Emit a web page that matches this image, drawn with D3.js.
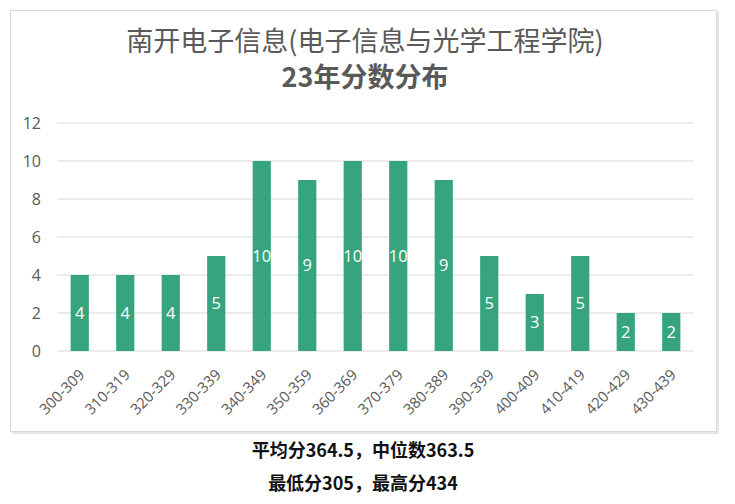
<!DOCTYPE html>
<html>
<head>
<meta charset="utf-8">
<script src="https://cdn.jsdelivr.net/npm/d3@7"></script>
<style>
  body { margin: 0; background: #fff; }
  svg text { font-family: "Noto Sans CJK SC", "Open Sans", sans-serif; }
  svg text.num { font-family: "Open Sans", "Noto Sans", sans-serif; }
</style>
</head>
<body>
<div id="chart"></div>
<script>
// 分数段
const ranges = ["300-309", "310-319", "320-329", "330-339", "340-349", "350-359", "360-369",
  "370-379", "380-389", "390-399", "400-409", "410-419", "420-429", "430-439"];
// 人数
const counts = [4, 4, 4, 5, 10, 9, 10, 10, 9, 5, 3, 5, 2, 2];
const yTicks = [0, 2, 4, 6, 8, 10, 12];
const titleLines = ["南开电子信息(电子信息与光学工程学院)", "23年分数分布"];
const notes = ["平均分364.5，中位数363.5", "最低分305，最高分434"];

const width = 735, height = 504;
const plot = { left: 57, right: 694, top: 123, bottom: 351 };

const svg = d3.select("#chart").append("svg")
  .attr("width", width)
  .attr("height", height);

// 阴影 + 边框
svg.append("rect")
  .attr("x", 12).attr("y", 12)
  .attr("width", 707).attr("height", 422)
  .attr("fill", "#e6e6e6");
svg.append("rect")
  .attr("x", 10.5).attr("y", 10.5)
  .attr("width", 706).attr("height", 421)
  .attr("fill", "#fff")
  .attr("stroke", "#d9d9d9");

const x = d3.scaleBand()
  .domain(ranges)
  .range([plot.left, plot.right])
  .paddingInner(0.6)
  .paddingOuter(0.3);

const y = d3.scaleLinear()
  .domain([0, 12])
  .range([plot.bottom, plot.top]);

// 网格线
svg.append("g")
  .selectAll("line")
  .data(yTicks)
  .join("line")
  .attr("x1", plot.left)
  .attr("x2", plot.right)
  .attr("y1", d => y(d))
  .attr("y2", d => y(d))
  .attr("stroke", "#d9d9d9")
  .attr("stroke-width", 1.2);

// y轴刻度
svg.append("g")
  .selectAll("text")
  .data(yTicks)
  .join("text")
  .attr("class", "num")
  .attr("x", 41)
  .attr("y", d => y(d))
  .attr("dy", "0.35em")
  .attr("text-anchor", "end")
  .attr("fill", "#595959")
  .style("font-size", "16px")
  .text(d => d);

// 柱子
svg.append("g")
  .selectAll("rect")
  .data(counts)
  .join("rect")
  .attr("x", (d, i) => x(ranges[i]))
  .attr("y", d => y(d))
  .attr("width", x.bandwidth())
  .attr("height", d => y(0) - y(d))
  .attr("fill", "#36a57d");

// 数据标签
svg.append("g")
  .selectAll("text")
  .data(counts)
  .join("text")
  .attr("class", "num")
  .attr("x", (d, i) => x(ranges[i]) + x.bandwidth() / 2)
  .attr("y", d => (y(d) + y(0)) / 2)
  .attr("dy", "0.35em")
  .attr("text-anchor", "middle")
  .attr("fill", "#fff")
  .style("font-size", "16.5px")
  .text(d => d);

// x轴标签
svg.append("g")
  .selectAll("text")
  .data(ranges)
  .join("text")
  .attr("class", "num")
  .attr("transform", d => `translate(${x(d) + x.bandwidth() / 2 + 2},${plot.bottom + 21}) rotate(-45)`)
  .attr("text-anchor", "end")
  .attr("dy", "0.35em")
  .attr("fill", "#595959")
  .style("font-size", "15px")
  .text(d => d);

// 标题
svg.append("g")
  .selectAll("text")
  .data(titleLines)
  .join("text")
  .attr("x", 365)
  .attr("y", (d, i) => 42 + i * 36)
  .attr("dy", "0.35em")
  .attr("text-anchor", "middle")
  .attr("fill", "#595959")
  .style("font-size", "27px")
  .style("font-weight", (d, i) => i === 1 ? "bold" : "normal")
  .text(d => d);

// 底部说明
svg.append("g")
  .selectAll("text")
  .data(notes)
  .join("text")
  .attr("x", 363)
  .attr("y", (d, i) => 451 + i * 33)
  .attr("dy", "0.35em")
  .attr("text-anchor", "middle")
  .attr("fill", "#111")
  .style("font-size", "18px")
  .style("font-weight", "bold")
  .text(d => d);
</script>
</body>
</html>
